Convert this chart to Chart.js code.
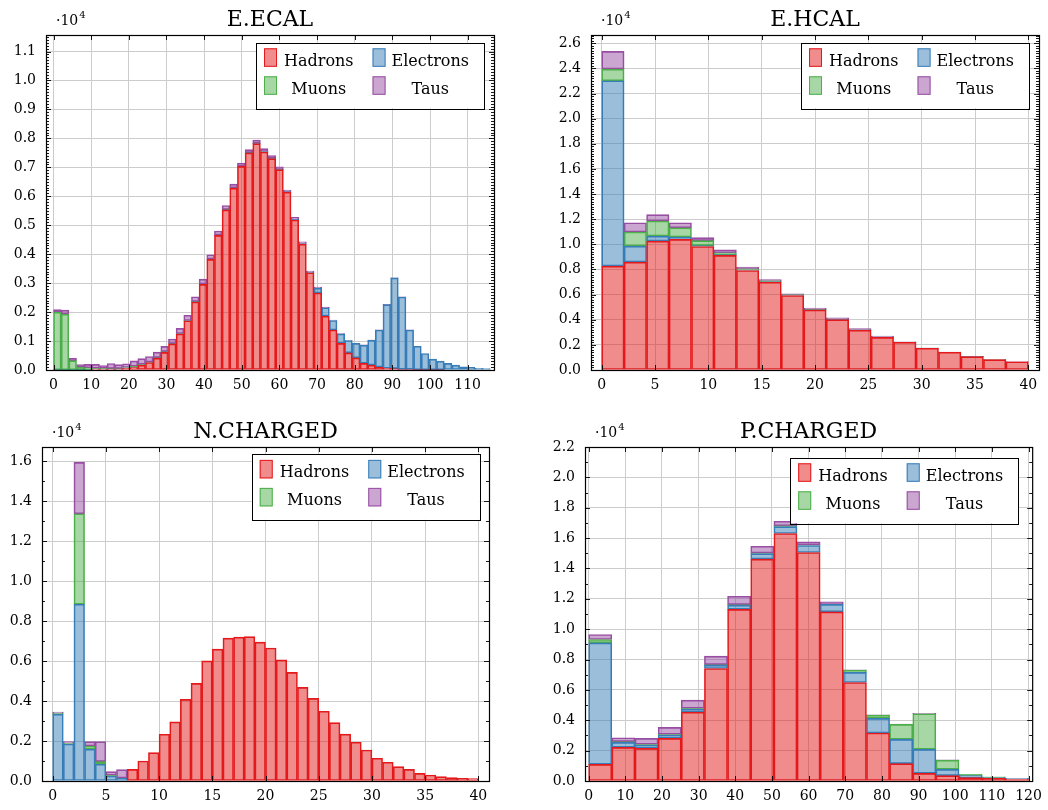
<!DOCTYPE html>
<html>
<head>
<meta charset="utf-8">
<script src="https://cdn.jsdelivr.net/npm/chart.js@4.4.1/dist/chart.umd.min.js"></script>
<style>
  html, body { margin: 0; padding: 0; background: #fff; }
  body { width: 1048px; height: 810px; position: relative; overflow: hidden; }
  canvas { position: absolute; }
</style>
</head>
<body>
<canvas id="ecal"></canvas>
<canvas id="hcal"></canvas>
<canvas id="ncharged"></canvas>
<canvas id="pcharged"></canvas>
<script>
const seriesNames = ["Hadrons", "Electrons", "Muons", "Taus"];

// histogram binning: [low edge, high edge, number of bins]
const ecalBins = [0, 116, 57];
const hcalBins = [0, 40, 19];
const nchBins = [0, 40, 40];
const pchBins = [0, 120, 19];

// E.ECAL counts per bin
const ecalHadrons = [0, 0, 0, 0, 0, 30, 30, 30, 30, 60, 80, 170, 260, 410, 610, 900, 1250, 1700, 2350, 2960,
  3820, 4650, 5530, 6280, 7030, 7500, 7820, 7530, 7300, 6920, 6140, 5180, 4350, 3360, 2660, 1860, 1380, 920,
  590, 420, 230, 170, 100, 60, 50, 20, 20, 10, 10, 5, 5, 0, 0, 0, 0, 0, 0];
const ecalElectrons = [10, 10, 5, 5, 5, 5, 5, 5, 5, 5, 5, 5, 5, 5, 5, 5, 5, 5, 5, 5, 5, 5, 5, 5, 5, 5, 5,
  10, 10, 10, 10, 20, 20, 20, 170, 290, 330, 330, 430, 500, 630, 860, 1280, 2200, 3130, 2500, 1360, 810,
  560, 370, 300, 230, 170, 110, 90, 60, 50];
const ecalMuons = [1990, 1920, 320, 100, 70, 20, 20, 10, 10, 20, 40, 20, 10, 10, 20, 5, 5, 5, 5, 5, 5, 5,
  5, 5, 5, 5, 5, 5, 5, 5, 5, 0, 0, 0, 0, 0, 0, 0, 0, 0, 0, 0, 0, 0, 0, 0, 0, 0, 0, 0, 0, 0, 0, 0, 0, 0, 0];
const ecalTaus = [90, 140, 80, 80, 120, 140, 100, 180, 140, 130, 190, 200, 190, 190, 180, 160, 180, 180,
  170, 170, 150, 140, 140, 130, 110, 100, 110, 100, 90, 80, 60, 70, 60, 40, 30, 20, 10, 5, 5, 5, 5, 5, 5,
  5, 5, 5, 5, 0, 0, 0, 0, 0, 0, 0, 0, 0, 0];

// E.HCAL counts per bin
const hcalHadrons = [8270, 8590, 10260, 10390, 9830, 9120, 7920, 6990, 5930, 4780, 4010, 3160, 2600, 2210,
  1730, 1410, 1060, 820, 660];
const hcalElectrons = [14750, 1270, 400, 190, 70, 60, 40, 40, 30, 20, 20, 10, 10, 5, 5, 5, 5, 0, 0];
const hcalMuons = [930, 1120, 1200, 740, 390, 150, 90, 60, 40, 30, 20, 20, 10, 10, 5, 5, 5, 5, 0];
const hcalTaus = [1410, 740, 500, 400, 240, 240, 140, 110, 60, 90, 100, 100, 80, 20, 10, 10, 10, 5, 5];

// N.CHARGED counts per bin
const nchHadrons = [0, 0, 0, 0, 0, 0, 0, 580, 1000, 1420, 2340, 2960, 4090, 4890, 6010, 6600, 7150, 7200,
  7230, 6950, 6660, 6060, 5440, 4690, 4140, 3490, 2920, 2350, 1940, 1550, 1140, 940, 720, 580, 380, 300,
  220, 170, 130, 120];
const nchElectrons = [3350, 1850, 8850, 1590, 840, 250, 130, 0, 0, 0, 0, 0, 0, 0, 0, 0, 0, 0, 0, 0, 0, 0,
  0, 0, 0, 0, 0, 0, 0, 0, 0, 0, 0, 0, 0, 0, 0, 0, 0, 0];
const nchMuons = [50, 40, 4530, 160, 130, 30, 20, 0, 0, 0, 0, 0, 0, 0, 0, 0, 0, 0, 0, 0, 0, 0, 0, 0, 0, 0,
  0, 0, 0, 0, 0, 0, 0, 0, 0, 0, 0, 0, 0, 0];
const nchTaus = [50, 80, 2570, 220, 1000, 190, 420, 0, 0, 0, 0, 0, 0, 0, 0, 0, 0, 0, 0, 0, 0, 0, 0, 0, 0,
  0, 0, 0, 0, 0, 0, 0, 0, 0, 0, 0, 0, 0, 0, 0];

// P.CHARGED counts per bin
const pchHadrons = [1100, 2220, 2150, 2810, 4540, 7410, 11300, 14610, 16300, 15050, 11140, 6490, 3160,
  1140, 500, 350, 220, 180, 130];
const pchElectrons = [8000, 320, 220, 220, 200, 220, 280, 370, 460, 460, 490, 660, 960, 1600, 1580, 420,
  130, 40, 50];
const pchMuons = [220, 50, 40, 40, 40, 40, 40, 30, 40, 30, 30, 150, 220, 990, 2350, 610, 90, 60, 0];
const pchTaus = [330, 260, 400, 460, 550, 560, 550, 450, 310, 210, 140, 20, 20, 20, 20, 10, 0, 0, 0];

const fills = ["rgba(228,26,28,0.5)", "rgba(55,126,184,0.5)", "rgba(77,175,74,0.5)", "rgba(152,78,163,0.5)"];
const edges = ["#e41a1c", "#377eb8", "#4daf4a", "#984ea3"];
const FONT = "'DejaVu Serif', serif";

// frame = plot box on the page: left, top, right, bottom
const panels = [
  { id: "ecal", title: "E.ECAL", frame: [46, 35, 494, 370], bins: ecalBins,
    xMin: -2, xMax: 117, xStep: 10, yMax: 11570, yStep: 1000, yMinor: 100, legendAt: [10, 7.7],
    series: [ecalHadrons, ecalElectrons, ecalMuons, ecalTaus] },
  { id: "hcal", title: "E.HCAL", frame: [591, 35, 1039, 370], bins: hcalBins,
    xMin: -1, xMax: 41, xStep: 5, yMax: 26660, yStep: 2000, yMinor: 200, legendAt: [10, 7.7],
    series: [hcalHadrons, hcalElectrons, hcalMuons, hcalTaus] },
  { id: "ncharged", title: "N.CHARGED", frame: [42, 447, 489, 781], bins: nchBins,
    xMin: -1, xMax: 41, xStep: 5, yMax: 16720, yStep: 2000, yMinor: 1000, legendAt: [9.3, 7.3],
    series: [nchHadrons, nchElectrons, nchMuons, nchTaus] },
  { id: "pcharged", title: "P.CHARGED", frame: [585, 447, 1033, 781], bins: pchBins,
    xMin: -1, xMax: 121, xStep: 10, yMax: 22000, yStep: 2000, yMinor: 1000, legendAt: [14, 10.7],
    series: [pchHadrons, pchElectrons, pchMuons, pchTaus] }
];

const M = { left: 50, top: 45, right: 16, bottom: 30 };

// multiples of step inside [0, max]
function stepTicks(scale, step) {
  const out = [];
  for (let i = 0; i * step <= scale.max + 1e-9; i++) out.push({ value: i * step });
  scale.ticks = out;
}

// frame, inward ticks, title, 10^4 multiplier and the boxed legend
const decor = {
  id: "decor",
  afterDraw(chart, args, o) {
    const { ctx, chartArea: a, scales: { x, y } } = chart;
    ctx.save();
    ctx.strokeStyle = "#000";
    ctx.lineWidth = 0.9;
    ctx.beginPath();
    x.ticks.forEach(t => {
      const px = Math.round(x.getPixelForValue(t.value)) + 0.5;
      ctx.moveTo(px, a.bottom); ctx.lineTo(px, a.bottom - 5);
      ctx.moveTo(px, a.top); ctx.lineTo(px, a.top + 5);
    });
    const per = Math.round(o.yStep / o.yMinor);
    for (let i = 0; i * o.yMinor <= y.max; i++) {
      const py = Math.round(y.getPixelForValue(i * o.yMinor)) + 0.5;
      const len = i % per === 0 ? 5 : 3;
      ctx.moveTo(a.left, py); ctx.lineTo(a.left + len, py);
      ctx.moveTo(a.right, py); ctx.lineTo(a.right - len, py);
    }
    ctx.stroke();

    ctx.lineWidth = 1.2;
    ctx.strokeRect(a.left + 0.5, a.top + 0.5, a.right - a.left, a.bottom - a.top);

    ctx.fillStyle = "#000";
    ctx.textBaseline = "alphabetic";
    ctx.textAlign = "center";
    ctx.font = "22px " + FONT;
    ctx.fillText(o.title, (a.left + a.right) / 2, a.top - 9);

    ctx.textAlign = "left";
    ctx.font = "14px " + FONT;
    ctx.fillText("\u00b710", a.left + 10, a.top - 10);
    const w10 = ctx.measureText("\u00b710").width;
    ctx.font = "10px " + FONT;
    ctx.fillText("4", a.left + 11 + w10, a.top - 17);

    // legend: two columns, Hadrons/Electrons on top, Muons/Taus below
    const ds = chart.data.datasets;
    ctx.font = "16px " + FONT;
    const tw = i => ctx.measureText(ds[i].label).width;
    const c1 = Math.max(tw(0), tw(2)), c2 = Math.max(tw(1), tw(3));
    const sw = 13, sh = 18.5;
    const bw = 8 + sw + 7 + c1 + 20 + sw + 6 + c2 + 14, bh = 65.5;
    const bx = a.right - o.legendAt[0] - bw, by = a.top + o.legendAt[1];
    ctx.fillStyle = "#fff";
    ctx.fillRect(bx, by, bw, bh);
    ctx.lineWidth = 1;
    ctx.strokeStyle = "#000";
    ctx.strokeRect(Math.round(bx) + 0.5, Math.round(by) + 0.5, Math.round(bw), Math.round(bh));
    ctx.textAlign = "center";
    ds.forEach((d, k) => {
      const row = k >> 1, col = k & 1;
      const sx = bx + 8 + col * (sw + 7 + c1 + 20 - 1);
      const sy = by + 5.6 + row * 28;
      ctx.fillStyle = d.backgroundColor;
      ctx.fillRect(sx, sy, sw, sh);
      ctx.strokeStyle = d.borderColor;
      ctx.strokeRect(sx + 0.5, sy + 0.5, sw - 1, sh - 1);
      ctx.fillStyle = "#000";
      const tx = sx + sw + (col ? 6 : 7) + (col ? c2 : c1) / 2;
      ctx.fillText(d.label, tx, sy + 17.5);
    });
    ctx.restore();
  }
};

panels.forEach(p => {
  const [l, t, r, b] = p.frame;
  const cv = document.getElementById(p.id);
  cv.width = r - l + M.left + M.right;
  cv.height = b - t + M.top + M.bottom;
  cv.style.left = (l - M.left) + "px";
  cv.style.top = (t - M.top) + "px";

  const [lo, hi, n] = p.bins;
  const w = (hi - lo) / n;
  const datasets = p.series.map((vals, k) => ({
    label: seriesNames[k],
    data: vals.map((v, i) => ({ x: lo + (i + 0.5) * w, y: v })),
    backgroundColor: fills[k],
    borderColor: edges[k],
    borderWidth: 1,
    borderSkipped: false,
    barPercentage: 1,
    categoryPercentage: 1
  }));

  new Chart(cv, {
    type: "bar",
    data: { datasets },
    plugins: [decor],
    options: {
      responsive: false,
      animation: false,
      events: [],
      layout: { padding: { top: M.top, right: M.right, left: 0, bottom: 0 } },
      plugins: {
        legend: { display: false },
        tooltip: { enabled: false },
        decor: { title: p.title, yStep: p.yStep, yMinor: p.yMinor, legendAt: p.legendAt }
      },
      scales: {
        x: {
          type: "linear",
          stacked: true,
          offset: false,
          min: p.xMin,
          max: p.xMax,
          grid: { color: "#cccccc", drawTicks: false, offset: false },
          border: { display: false },
          ticks: {
            autoSkip: false, maxRotation: 0,
            color: "#000", padding: 7, font: { family: FONT, size: 14 },
            callback: v => String(v)
          },
          afterBuildTicks: s => stepTicks(s, p.xStep),
          afterFit: s => { s.height = M.bottom; }
        },
        y: {
          stacked: true,
          min: 0,
          max: p.yMax,
          grid: { color: "#cccccc", drawTicks: false },
          border: { display: false },
          ticks: {
            autoSkip: false,
            color: "#000", padding: 10, font: { family: FONT, size: 14 },
            callback: v => (v / 1e4).toFixed(1)
          },
          afterBuildTicks: s => stepTicks(s, p.yStep),
          afterFit: s => { s.width = M.left; }
        }
      }
    }
  });
});
</script>
</body>
</html>
